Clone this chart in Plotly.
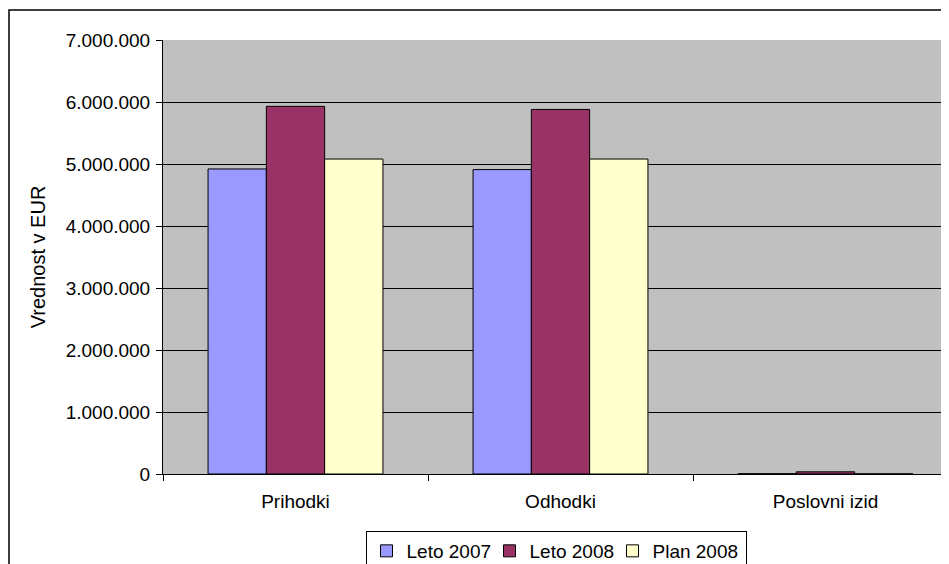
import plotly.graph_objects as go

categories = ["Prihodki", "Odhodki", "Poslovni izid"]
leto_2007 = [4920000, 4910000, 5000]
leto_2008 = [5930000, 5880000, 35000]
plan_2008 = [5080000, 5080000, 3000]
series_names = ["Leto 2007", "Leto 2008", "Plan 2008"]
colors = ["#9999FF", "#993366", "#FFFFCC"]
legend_widths = [78, 78, 88]
y_ticks = [0, 1000000, 2000000, 3000000, 4000000, 5000000, 6000000, 7000000]
y_tick_labels = ["0", "1.000.000", "2.000.000", "3.000.000", "4.000.000",
                 "5.000.000", "6.000.000", "7.000.000"]

fig = go.Figure()
for name, vals, col, lw in zip(series_names, [leto_2007, leto_2008, plan_2008], colors, legend_widths):
    fig.add_trace(go.Bar(x=categories, y=vals, name=name, legendwidth=lw,
                         marker=dict(color=col, line=dict(color="black", width=1))))

# page has an 8px body margin; compensate so the plot lands where the reference has it
W, H = 941, 556
L, T, B, R = 155, 32, 90, 0
pw = W - L - R
ph = H - T - B
cat_w = 265.0
FS = 19

fig.update_layout(
    width=W, height=H,
    margin=dict(l=L, r=R, t=T, b=B, pad=0, autoexpand=False),
    paper_bgcolor="white",
    plot_bgcolor="#C0C0C0",
    barmode="group",
    bargap=0.34,
    bargroupgap=0,
    font=dict(family="Liberation Sans, Arial, sans-serif", size=FS, color="black"),
    showlegend=True,
    legend=dict(orientation="h", x=(556 - 8 - L) / pw, xanchor="center",
                y=(H - B - (531 - 8)) / ph, yanchor="top",
                bordercolor="black", borderwidth=1, bgcolor="white",
                font=dict(size=FS), itemwidth=30, tracegroupgap=0,
                entrywidthmode="pixels"),
    xaxis=dict(range=[-0.5, -0.5 + pw / cat_w], showgrid=False, zeroline=False,
               ticks="outside", tickson="boundaries", ticklen=6, tickcolor="black",
               showline=True, linecolor="black", linewidth=1,
               ticklabelstandoff=10,
               tickfont=dict(size=FS)),
    yaxis=dict(range=[0, 7000000], tickvals=y_ticks, ticktext=y_tick_labels,
               showgrid=True, gridcolor="black", gridwidth=1, zeroline=False,
               ticks="outside", ticklen=6, tickcolor="black",
               showline=True, linecolor="black", linewidth=1,
               ticklabelstandoff=2,
               title=dict(text="Vrednost v EUR", font=dict(size=20), standoff=14),
               tickfont=dict(size=FS)),
    shapes=[dict(type="rect", xref="paper", yref="paper",
                 x0=(9 - 8 - L) / pw, x1=1.2, y0=-0.5, y1=(H - B - (10 - 8)) / ph,
                 line=dict(color="black", width=1.5), fillcolor="rgba(0,0,0,0)",
                 layer="above")],
)

fig.write_html("out.html")
